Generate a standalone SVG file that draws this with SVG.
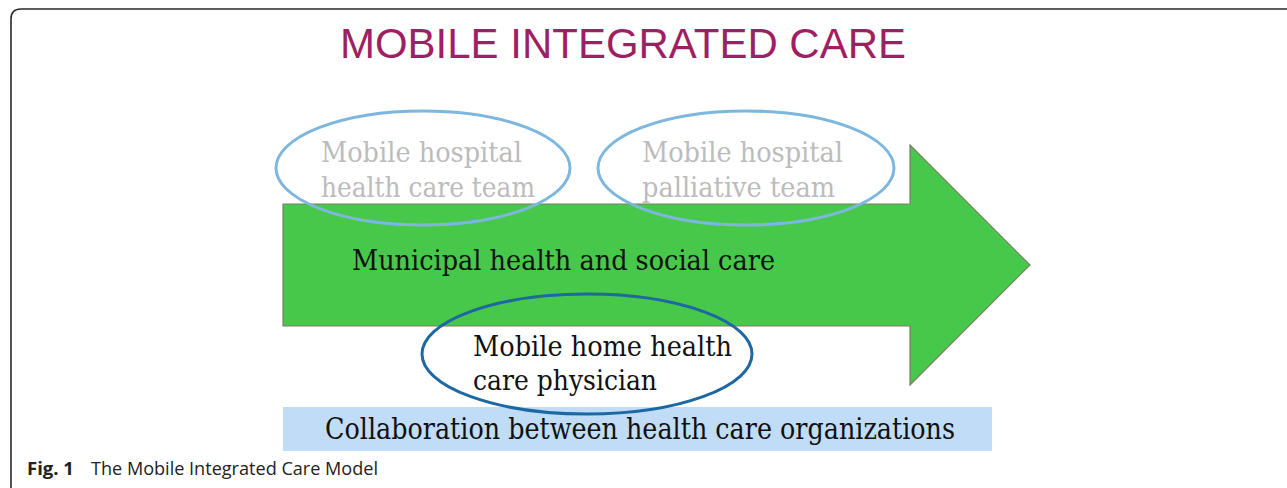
<svg xmlns="http://www.w3.org/2000/svg" width="1287" height="488" viewBox="0 0 1287 488">
<style>
.serif{font-family:"DejaVu Serif","Liberation Serif",serif;}
.gray{fill:#bcbcbc;font-size:28px;}
.dark{fill:#111;font-size:28px;}
.lblue{fill:none;stroke:#7db7e0;stroke-width:3;}
.dblue{fill:none;stroke:#1d67a3;stroke-width:3;}
</style>
<rect x="0" y="0" width="1287" height="488" fill="#fff"/>
<path d="M11,488 V19 Q11,9 21,9 H1287" fill="none" stroke="#2a2a2a" stroke-width="1.6"/>
<text x="340" y="58" font-family="Liberation Sans, Arial, sans-serif" font-size="42" fill="#9e1f63" textLength="566" lengthAdjust="spacingAndGlyphs">MOBILE INTEGRATED CARE</text>
<g id="arrow">
<path d="M283,204 H910 V145 L1030,265 L910,385 V326 H283 Z" fill="#47c84a" stroke="#7a7d6a" stroke-width="1.2"/>
<text class="serif dark" x="352" y="270" textLength="423" lengthAdjust="spacingAndGlyphs">Municipal health and social care</text>
</g>
<g id="collab">
<rect x="283" y="407" width="709" height="44" fill="#c0dcf6"/>
<text class="serif dark" x="325" y="439" textLength="630" lengthAdjust="spacingAndGlyphs" style="font-size:30px">Collaboration between health care organizations</text>
</g>
<g id="hospital-team">
<ellipse class="lblue" cx="423" cy="168" rx="147" ry="57"/>
<text class="serif gray" x="321" y="162" textLength="201" lengthAdjust="spacingAndGlyphs">Mobile hospital</text>
<text class="serif gray" x="321" y="197" textLength="214" lengthAdjust="spacingAndGlyphs">health care team</text>
</g>
<g id="palliative-team">
<ellipse class="lblue" cx="746" cy="168" rx="148" ry="57"/>
<text class="serif gray" x="642" y="162" textLength="201" lengthAdjust="spacingAndGlyphs">Mobile hospital</text>
<text class="serif gray" x="642" y="197" textLength="193" lengthAdjust="spacingAndGlyphs">palliative team</text>
</g>
<g id="physician">
<ellipse class="dblue" cx="587" cy="354" rx="165" ry="60"/>
<text class="serif dark" x="473" y="356" textLength="259" lengthAdjust="spacingAndGlyphs">Mobile home health</text>
<text class="serif dark" x="473" y="390" textLength="184" lengthAdjust="spacingAndGlyphs">care physician</text>
</g>
<g id="connectors"></g>
<text x="27" y="475" font-family="Open Sans, Liberation Sans, sans-serif" font-size="18.5" fill="#222"><tspan font-weight="bold">Fig. 1</tspan><tspan x="91" textLength="287" lengthAdjust="spacingAndGlyphs">The Mobile Integrated Care Model</tspan></text>
</svg>
